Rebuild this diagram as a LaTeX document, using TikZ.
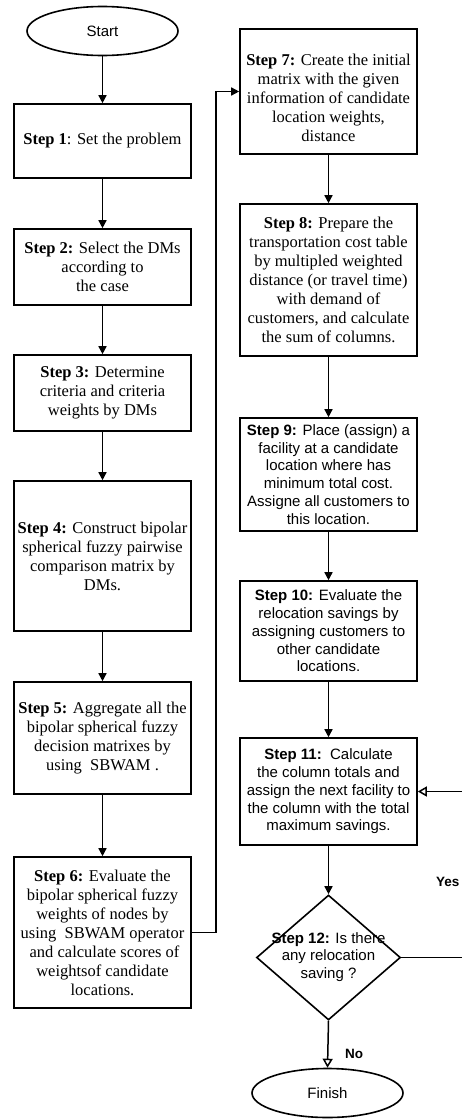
\documentclass[tikz,border=0pt]{standalone}
\usepackage{fontspec}
\setmainfont{Liberation Serif}
\newfontfamily\arialf{Liberation Sans}
\usetikzlibrary{shapes.geometric,arrows.meta}
\begin{document}
\begin{tikzpicture}[x=1pt,y=-1pt,
 box/.style={draw, line width=1.6pt, minimum width=177pt, inner sep=0pt, align=center, font=\fontsize{16.5}{19}\selectfont},
 abox/.style={box, font=\arialf\fontsize{15}{17.8}\selectfont},
 plain/.style={inner sep=0pt, align=center, font=\fontsize{16.5}{19}\selectfont},
 arr/.style={line width=1.5pt, -{Triangle[length=8pt,width=8pt]}},
 oarr/.style={line width=1.5pt, -{Triangle[open,length=9pt,width=10pt]}},
 term/.style={ellipse, draw, line width=1.6pt, minimum width=151pt, minimum height=49pt, inner sep=0pt, font=\arialf\fontsize{15}{18}\selectfont},
 lbl/.style={inner sep=0pt, font=\arialf\bfseries\fontsize{13.5}{16}\selectfont}]
\useasboundingbox (0,0) rectangle (461,1119);
% left column
\node[term] (start) at (102.5,31) {Start};
\node[box, minimum height=74pt] (s1) at (102.5,141) {\textbf{Step 1}: Set the problem};
\node[box, minimum height=76pt] (s2) at (102.5,267) {\textbf{Step 2:} Select the DMs\\according to\\the case};
\node[box, minimum height=76pt] (s3) at (102.5,393) {\textbf{Step 3:} Determine\\criteria and criteria\\weights by DMs};
\node[box, minimum height=150pt] (s4) at (102.5,556) {\textbf{Step 4:} Construct bipolar\\spherical fuzzy pairwise\\comparison matrix by\\DMs.};
\node[box, minimum height=112pt] (s5) at (102.5,738) {\textbf{Step 5:} Aggregate all the\\bipolar spherical fuzzy\\decision matrixes by\\using\ \ SBWAM .};
\node[box, minimum height=151pt] (s6) at (102.5,932.5) {\textbf{Step 6:} Evaluate the\\bipolar spherical fuzzy\\weights of nodes by\\using\ \ SBWAM operator\\\ and calculate scores of\\weightsof candidate\\locations.};
% right column
\node[box, minimum height=125pt] (s7) at (328.5,91.5) {};
\node[plain] (s7t) at (328.5,98) {\textbf{Step 7:} Create the initial\\matrix with the given\\information of candidate\\location weights,\\distance};
\node[box, minimum height=152pt] (s8) at (328.5,280) {\textbf{Step 8:} Prepare the\\transportation cost table\\by multipled weighted\\distance (or travel time)\\with demand of\\customers, and calculate\\the sum of columns.};
\node[abox, minimum height=113pt] (s9) at (328.5,474.5) {\textbf{Step 9:} Place (assign) a\\facility at a candidate\\location where has\\minimum total cost.\\Assigne all customers to\\this location.};
\node[abox, minimum height=100pt] (s10) at (328.5,631) {\textbf{Step 10:} Evaluate the\\relocation savings by\\assigning customers to\\other candidate\\locations.};
\node[abox, minimum height=107pt] (s11) at (328.5,791.5) {\textbf{Step 11:}\ \ Calculate\\the column totals and\\assign the next facility to\\the column with the total\\maximum savings.};
\node[diamond, draw, line width=1.6pt, minimum width=144pt, minimum height=125pt, inner sep=0pt] (d) at (328.5,957.5) {};
\node[inner sep=0pt, align=center, font=\arialf\fontsize{15}{17.6}\selectfont] (dt) at (328.5,957) {\textbf{Step 12:} Is there\\any relocation\\saving ?};
\node[term] (fin) at (327.5,1093) {Finish};
\node[lbl, anchor=west] (yes) at (436,882) {Yes};
\node[lbl] (no) at (354,1054) {No};
% connectors
\draw[arr] (start.south) -- (s1.north);
\draw[arr] (s1.south) -- (s2.north);
\draw[arr] (s2.south) -- (s3.north);
\draw[arr] (s3.south) -- (s4.north);
\draw[arr] (s4.south) -- (s5.north);
\draw[arr] (s5.south) -- (s6.north);
\draw[arr] (s6.east) -- ++(24,0) |- (s7.west);
\draw[arr] (s7.south) -- (s8.north);
\draw[arr] (s8.south) -- (s9.north);
\draw[arr] (s9.south) -- (s10.north);
\draw[arr] (s10.south) -- (s11.north);
\draw[arr] (s11.south) -- (d.north);
\draw[oarr] (d.east) -- ++(70,0) |- (s11.east);
\draw[oarr] (d.south) -- (fin.north);
\end{tikzpicture}
\end{document}
